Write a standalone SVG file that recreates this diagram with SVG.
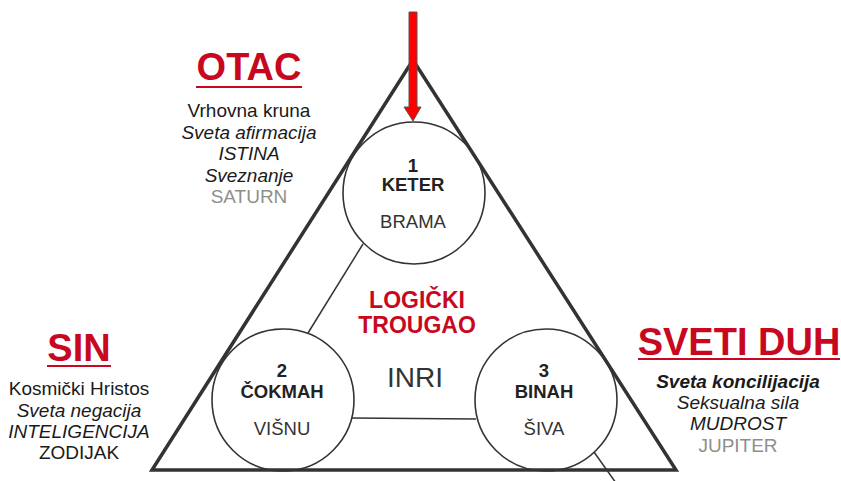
<svg xmlns="http://www.w3.org/2000/svg" width="841" height="481" viewBox="0 0 841 481">
<style>
  text { font-family: "Liberation Sans", Arial, sans-serif; text-anchor: middle; }
  .title { font-size: 38px; font-weight: bold; fill: #c8081f; }
  .uline { stroke: #c8081f; stroke-width: 2; }
  .side { font-size: 19px; fill: #1a1a1a; }
  .it { font-style: italic; }
  .gray { fill: #8f8f8a; }
  .node { fill: #ffffff; stroke: #333333; stroke-width: 1.6; }
  .num { font-size: 18.5px; font-weight: bold; fill: #222222; }
  .name { font-size: 18.5px; font-weight: bold; fill: #222222; }
  .deity { font-size: 18.5px; fill: #333333; }
  .conn { stroke: #333333; stroke-width: 1.5; fill: none; }
  .tri { stroke: #333333; stroke-width: 3.5; fill: none; stroke-linejoin: miter; }
</style>

<g id="connectors">
  <line class="conn" x1="363" y1="244" x2="308" y2="333"/>
  <line class="conn" x1="352" y1="418" x2="476" y2="419"/>
  <line class="conn" x1="594" y1="452" x2="616" y2="483"/>
</g>

<g id="keter">
  <circle class="node" cx="414" cy="193" r="71"/>
  <text class="num" x="413" y="172">1</text>
  <text class="name" x="413" y="191">KETER</text>
  <text class="deity" x="413" y="228">BRAMA</text>
</g>

<g id="cokmah">
  <circle class="node" cx="283" cy="400" r="71"/>
  <text class="num" x="282" y="377">2</text>
  <text class="name" x="282" y="398">ČOKMAH</text>
  <text class="deity" x="282" y="435">VIŠNU</text>
</g>

<g id="binah">
  <circle class="node" cx="546" cy="400" r="71"/>
  <text class="num" x="544" y="377">3</text>
  <text class="name" x="544" y="398">BINAH</text>
  <text class="deity" x="544" y="435">ŠIVA</text>
</g>

<g id="triangle">
  <polygon class="tri" points="413,60 152,470 676,470"/>
</g>

<g id="arrow">
  <polygon points="409,12 417,12 417,107 421,107 413,121 404,107 409,107" fill="#ff0000" stroke="#555555" stroke-width="1"/>
</g>

<g id="center">
  <text x="417" y="308" style="font-size:23px;font-weight:bold;fill:#c8081f">LOGIČKI</text>
  <text x="417" y="333" style="font-size:23px;font-weight:bold;fill:#c8081f">TROUGAO</text>
  <text x="415" y="387" style="font-size:28px;fill:#333333">INRI</text>
</g>

<g id="otac">
  <text class="title" x="249" y="80">OTAC</text>
  <line class="uline" x1="196" y1="87" x2="302" y2="87"/>
  <text class="side" x="249" y="117">Vrhovna kruna</text>
  <text class="side it" x="249" y="139">Sveta afirmacija</text>
  <text class="side it" x="249" y="160">ISTINA</text>
  <text class="side it" x="249" y="182">Sveznanje</text>
  <text class="side gray" x="249" y="203">SATURN</text>
</g>

<g id="sin">
  <text class="title" x="79" y="361">SIN</text>
  <line class="uline" x1="47" y1="366" x2="111" y2="366"/>
  <text class="side" x="79" y="395">Kosmički Hristos</text>
  <text class="side it" x="79" y="417">Sveta negacija</text>
  <text class="side it" x="79" y="438">INTELIGENCIJA</text>
  <text class="side" x="79" y="459">ZODIJAK</text>
</g>

<g id="sveti-duh">
  <text class="title" x="739" y="355">SVETI DUH</text>
  <line class="uline" x1="638" y1="359" x2="840" y2="359"/>
  <text class="side it" x="738" y="388" style="font-weight:bold">Sveta koncilijacija</text>
  <text class="side it" x="738" y="409">Seksualna sila</text>
  <text class="side it" x="738" y="430">MUDROST</text>
  <text class="side gray" x="738" y="452">JUPITER</text>
</g>
</svg>
